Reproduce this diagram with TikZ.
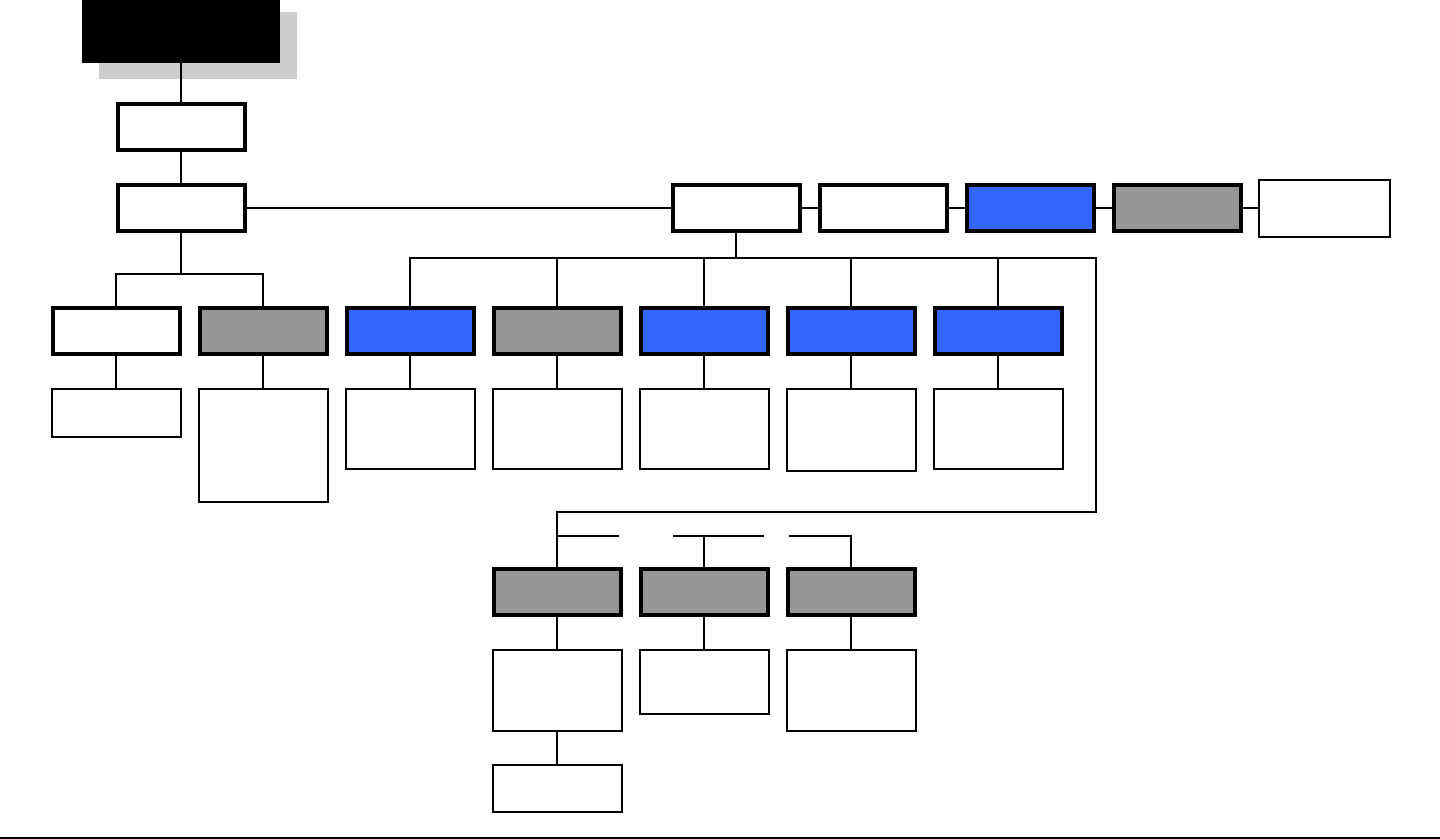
\documentclass[tikz,border=0pt]{standalone}
\begin{document}
\begin{tikzpicture}[x=0.5pt,y=-0.5pt,
  hbox/.style={draw=black, line width=2pt, minimum width=63.5pt, minimum height=23pt, inner sep=0pt, fill=white},
  sbox/.style={draw=black, line width=1pt, minimum width=64.5pt, inner sep=0pt, fill=white},
  conn/.style={draw=black, line width=1pt},
  gfill/.style={fill=grayfill},
  bfill/.style={fill=bluefill}]
\definecolor{grayfill}{HTML}{969696}
\definecolor{bluefill}{HTML}{3366FF}
\definecolor{shadowc}{HTML}{CCCCCC}
\useasboundingbox (0,0) rectangle (1440,839);
\fill[white] (0,0) rectangle (1440,839);
% title box with shadow
\fill[shadowc] (99,12) rectangle (297,79);
\node[fill=black, minimum width=99pt, minimum height=31.5pt, inner sep=0pt] (top) at (181,31.5) {};
% main chain
\node[hbox] (A) at (181,127.5) {};
\node[hbox] (B) at (181,208.5) {};
\node[hbox] (C) at (736,208.5) {};
\node[hbox] (D) at (883.5,208.5) {};
\node[hbox, bfill] (E) at (1030,208.5) {};
\node[hbox, gfill] (F) at (1177.5,208.5) {};
\node[sbox, minimum width=65.5pt, minimum height=28.5pt] (G) at (1324.5,208.5) {};
% level 3
\node[hbox] (L1) at (116,331.5) {};
\node[hbox, gfill] (L2) at (263,331.5) {};
\node[hbox, bfill] (M1) at (410,331.5) {};
\node[hbox, gfill] (M2) at (557,331.5) {};
\node[hbox, bfill] (M3) at (704,331.5) {};
\node[hbox, bfill] (M4) at (851,331.5) {};
\node[hbox, bfill] (M5) at (998,331.5) {};
% subs of level 3
\node[sbox, minimum height=24pt, anchor=north] (L1s) at (116,388) {};
\node[sbox, minimum height=56.5pt, anchor=north] (L2s) at (263,388) {};
\node[sbox, minimum height=40pt, anchor=north] (M1s) at (410,388) {};
\node[sbox, minimum height=40pt, anchor=north] (M2s) at (557,388) {};
\node[sbox, minimum height=40pt, anchor=north] (M3s) at (704,388) {};
\node[sbox, minimum height=41pt, anchor=north] (M4s) at (851,388) {};
\node[sbox, minimum height=40pt, anchor=north] (M5s) at (998,388) {};
% gray row
\node[hbox, gfill] (G1) at (557,592) {};
\node[hbox, gfill] (G2) at (704,592) {};
\node[hbox, gfill] (G3) at (851,592) {};
\node[sbox, minimum height=40.5pt, anchor=north] (G1s) at (557,649) {};
\node[sbox, minimum height=32pt, anchor=north] (G2s) at (704,649) {};
\node[sbox, minimum height=40.5pt, anchor=north] (G3s) at (851,649) {};
\node[sbox, minimum height=23.5pt, anchor=north] (G1t) at (557,764) {};
% helper coordinates
\coordinate (jB) at (181,274);
\coordinate (jC) at (736,258);
\coordinate (rb) at (1096,258);
\coordinate (rc) at (1096,512);
\coordinate (s1) at (619,536);
\coordinate (s2a) at (673,536);
\coordinate (s2b) at (764,536);
\coordinate (s3) at (789,536);
% connectors
\draw[conn] (top.south) -- (A.north);
\draw[conn] (A.south) -- (B.north);
\draw[conn] (B.east) -- (C.west);
\draw[conn] (C.east) -- (D.west);
\draw[conn] (D.east) -- (E.west);
\draw[conn] (E.east) -- (F.west);
\draw[conn] (F.east) -- (G.west);
\draw[conn] (B.south) -- (jB);
\draw[conn] (L1.north) -- (L1.north |- jB) -- (L2.north |- jB) -- (L2.north);
\draw[conn] (C.south) -- (jC);
\draw[conn] (M1.north) -- (M1.north |- jC) -- (rb) -- (rc) -- (G1.north |- rc) -- (G1.north);
\draw[conn] (M2.north) -- (M2.north |- jC);
\draw[conn] (M3.north) -- (M3.north |- jC);
\draw[conn] (M4.north) -- (M4.north |- jC);
\draw[conn] (M5.north) -- (M5.north |- jC);
\draw[conn] (L1.south) -- (L1s.north);
\draw[conn] (L2.south) -- (L2s.north);
\draw[conn] (M1.south) -- (M1s.north);
\draw[conn] (M2.south) -- (M2s.north);
\draw[conn] (M3.south) -- (M3s.north);
\draw[conn] (M4.south) -- (M4s.north);
\draw[conn] (M5.south) -- (M5s.north);
\draw[conn] (G1.north |- s1) -- (s1);
\draw[conn] (s2a) -- (s2b);
\draw[conn] (G2.north) -- (G2.north |- s2a);
\draw[conn] (s3) -- (G3.north |- s3) -- (G3.north);
\draw[conn] (G1.south) -- (G1s.north);
\draw[conn] (G2.south) -- (G2s.north);
\draw[conn] (G3.south) -- (G3s.north);
\draw[conn] (G1s.south) -- (G1t.north);
% bottom rule
\draw[line width=1pt] (0,838) -- (1440,838);
\end{tikzpicture}
\end{document}
